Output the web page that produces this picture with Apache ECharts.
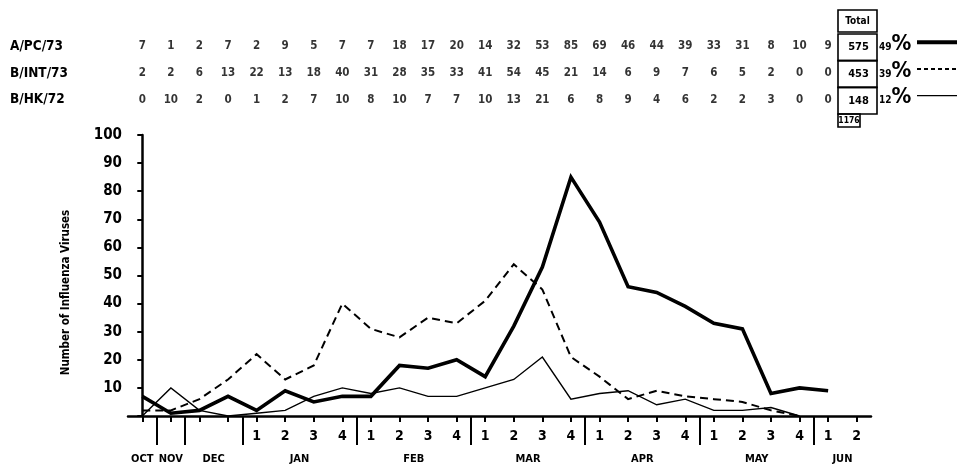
<!DOCTYPE html>
<html>
<head>
<meta charset="utf-8">
<script src="https://cdn.jsdelivr.net/npm/echarts@6/dist/echarts.min.js"></script>
<style>
html,body{margin:0;padding:0;background:#fff;}
#c{width:957px;height:466px;}
</style>
</head>
<body>
<div id="c"></div>
<script>
// ---- data ----
const seriesNames = ['A/PC/73', 'B/INT/73', 'B/HK/72'];
const apValues  = [7, 1, 2, 7, 2, 9, 5, 7, 7, 18, 17, 20, 14, 32, 53, 85, 69, 46, 44, 39, 33, 31, 8, 10, 9];
const intValues = [2, 2, 6, 13, 22, 13, 18, 40, 31, 28, 35, 33, 41, 54, 45, 21, 14, 6, 9, 7, 6, 5, 2, 0, 0];
const hkValues  = [0, 10, 2, 0, 1, 2, 7, 10, 8, 10, 7, 7, 10, 13, 21, 6, 8, 9, 4, 6, 2, 2, 3, 0, 0];
const plottedCount = [25, 24, 24]; // points drawn on the graph for each series
const totals = [575, 453, 148];
const grandTotal = 1176;
const percents = [49, 39, 12];
const weekLabels = ['', '', '', '', '1', '2', '3', '4', '1', '2', '3', '4', '1', '2', '3', '4', '1', '2', '3', '4', '1', '2', '3', '4', '1', '2'];
const monthNames = ['OCT', 'NOV', 'DEC', 'JAN', 'FEB', 'MAR', 'APR', 'MAY', 'JUN'];
const monthPositions = [0, 1, 2.5, 5.5, 9.5, 13.5, 17.5, 21.5, 24.5];
const monthSeparators = [0.5, 1.5, 3.5, 7.5, 11.5, 15.5, 19.5, 23.5];
const yTicks = [10, 20, 30, 40, 50, 60, 70, 80, 90, 100];

const FONT = '"DejaVu Sans Condensed", "DejaVu Sans", sans-serif';
const allValues = [apValues, intValues, hkValues];
const weekIdx = weekLabels.map((w, i) => i);
const weekLabelIdx = weekLabels.map((w, i) => w ? i : -1).filter(i => i >= 0);

const chart = echarts.init(document.getElementById('c'), null, {renderer: 'canvas'});

const lineStyles = [
  {color: '#000', width: 3.6, type: 'solid', join: 'miter'},
  {color: '#000', width: 2, type: [8, 5], join: 'miter'},
  {color: '#000', width: 1.4, type: 'solid', join: 'miter'}
];

const lineSeries = allValues.map((arr, s) => ({
  name: seriesNames[s],
  type: 'line',
  xAxisIndex: 0, yAxisIndex: 0,
  data: arr.slice(0, plottedCount[s]).map((v, i) => [i, v]),
  symbol: 'none',
  lineStyle: lineStyles[s],
  silent: true, animation: false, z: 5 - s
}));

const tableSeries = allValues.map((arr, s) => ({
  type: 'scatter',
  xAxisIndex: 2, yAxisIndex: 1,
  data: arr.map((v, i) => [i, s, v]),
  symbolSize: 0,
  label: {
    show: true, position: 'inside',
    formatter: p => String(p.value[2]),
    color: '#000', textBorderWidth: 0,
    fontFamily: FONT, fontWeight: 'bold', fontSize: 11.5
  },
  silent: true, animation: false
}));

chart.setOption({
  animation: false,
  backgroundColor: '#fff',
  grid: [
    {left: 128, right: 86, top: 135, bottom: 50},
    {left: 128, right: 86, top: 33, height: 80}
  ],
  xAxis: [
    {
      type: 'value', gridIndex: 0, min: -0.5, max: 25.5, position: 'bottom',
      splitLine: {show: false},
      axisLine: {show: true, lineStyle: {color: '#000', width: 2.5}},
      axisTick: {show: true, customValues: weekIdx, length: 6, lineStyle: {color: '#000', width: 2}},
      axisLabel: {
        show: true, customValues: weekLabelIdx, margin: 13,
        formatter: v => weekLabels[Math.round(v)],
        color: '#000', fontFamily: FONT, fontWeight: 'bold', fontSize: 14
      }
    },
    {
      type: 'value', gridIndex: 0, min: -0.5, max: 25.5, position: 'bottom',
      splitLine: {show: false},
      axisLine: {show: false},
      axisTick: {show: true, customValues: monthSeparators, length: 29, lineStyle: {color: '#000', width: 2}},
      axisLabel: {
        show: true, customValues: monthPositions, margin: 38,
        formatter: v => monthNames[monthPositions.indexOf(v)],
        color: '#000', fontFamily: FONT, fontWeight: 'bold', fontSize: 11
      }
    },
    {
      type: 'value', gridIndex: 1, min: -0.5, max: 25.5, show: false
    }
  ],
  yAxis: [
    {
      type: 'value', gridIndex: 0, min: 0, max: 100, interval: 10,
      splitLine: {show: false},
      axisLine: {show: true, lineStyle: {color: '#000', width: 2.5}},
      axisTick: {show: true, length: 5, lineStyle: {color: '#000', width: 2}},
      axisLabel: {
        margin: 6, formatter: v => (yTicks.indexOf(v) >= 0 ? String(v) : ''),
        color: '#000', fontFamily: FONT, fontWeight: 'bold', fontSize: 15
      },
      name: 'Number of Influenza Viruses', nameLocation: 'middle', nameGap: 56,
      nameTextStyle: {color: '#000', fontFamily: FONT, fontWeight: 'bold', fontSize: 11.5, padding: [0, 34, 0, 0]}
    },
    {
      type: 'category', gridIndex: 1, data: seriesNames, inverse: true,
      axisLine: {show: false}, axisTick: {show: false}, splitLine: {show: false},
      axisLabel: {
        align: 'left', margin: 118,
        color: '#000', fontFamily: FONT, fontWeight: 'bold', fontSize: 13.5
      }
    }
  ],
  series: lineSeries.concat(tableSeries)
});

// Totals box, percentages and line-style key, placed on the table rows
const rowY = seriesNames.map((n, s) => chart.convertToPixel({yAxisIndex: 1}, s));
const bx = 838, bw = 39;
const gfx = [];
const box = (x, y, w, h) => gfx.push({type: 'rect', shape: {x, y, width: w, height: h}, style: {fill: null, stroke: '#000', lineWidth: 1.6}, silent: true});
const txt = (x, y, t, size, align) => gfx.push({type: 'text', x, y, style: {text: t, font: 'bold ' + size + 'px ' + FONT, fill: '#000', align: align || 'center', verticalAlign: 'middle'}, silent: true});
box(bx, 10, bw, 22);
txt(bx + bw / 2, 21, 'Total', 10);
const rowH = (rowY[1] - rowY[0]);
seriesNames.forEach((n, s) => {
  const top = rowY[s] - rowH / 2 + 1;
  box(bx, top, bw, rowH);
  txt(bx + bw / 2 + 1, rowY[s] + 1, String(totals[s]), 11);
  gfx.push({type: 'text', x: bx + bw + 2, y: rowY[s] - 2, style: {
    text: '{a|' + percents[s] + '}{b|%}',
    rich: {a: {font: 'bold 10px ' + FONT, fill: '#000', verticalAlign: 'bottom', padding: [0, 0, 3, 0]},
           b: {font: 'bold 22px ' + FONT, fill: '#000'}},
    align: 'left', verticalAlign: 'middle'}, silent: true});
  gfx.push({type: 'line', shape: {x1: 917, y1: rowY[s] - 4, x2: 957, y2: rowY[s] - 4},
    style: {stroke: '#000', lineWidth: s === 0 ? 4 : (s === 1 ? 2 : 1.3), lineDash: s === 1 ? [4, 3] : null}, silent: true});
});
const lastBottom = rowY[2] + rowH / 2 + 1;
box(bx, lastBottom, 22, 13);
txt(bx + 11, lastBottom + 7, String(grandTotal), 8.5);
chart.setOption({graphic: gfx});
</script>
</body>
</html>
